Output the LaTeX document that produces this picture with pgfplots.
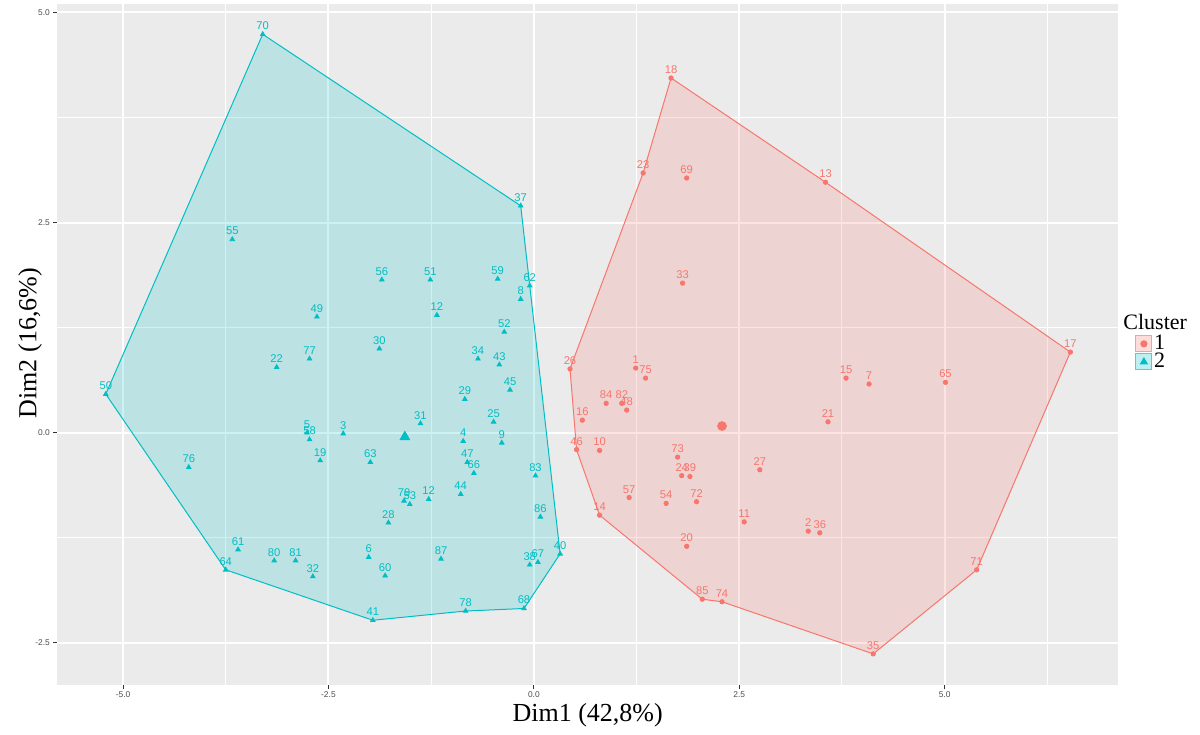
\documentclass[border=0pt]{standalone}
\usepackage{fontspec}
\setmainfont{Liberation Serif}
\newfontfamily\arial{Liberation Sans}
\usepackage{pgfplots}
\pgfplotsset{compat=1.18}
\definecolor{cRed}{HTML}{F8766D}
\definecolor{cCyan}{HTML}{00BFC4}
\definecolor{bg}{HTML}{EBEBEB}
\definecolor{tickc}{HTML}{4D4D4D}
\begin{document}
\begin{tikzpicture}
\path[use as bounding box] (0,0) rectangle (600pt,367pt);
\begin{axis}[
  at={(28.65pt,24.5pt)}, anchor=south west,
  scale only axis, width=530.35pt, height=340.5pt,
  xmin=-5.80, xmax=7.11, ymin=-3.00, ymax=5.10,
  axis background/.style={fill=bg},
  axis line style={draw=none},
  xtick={-5,-2.5,0,2.5,5}, ytick={-2.5,0,2.5,5},
  minor xtick={-3.75,-1.25,1.25,3.75,6.25}, minor ytick={-1.25,1.25,3.75},
  grid=both,
  major grid style={white, line width=1pt},
  minor grid style={white, line width=0.5pt},
  xticklabels={-5.0,-2.5,0.0,2.5,5.0}, yticklabels={-2.5,0.0,2.5,5.0},
  tick align=outside, major tick length=2pt, minor tick length=0pt,
  tick style={color=black!80, line width=0.5pt},
  tick pos=left,
  /pgf/number format/assume math mode=true,
  ticklabel style={font=\arial\fontsize{4.2}{5}\selectfont, text=tickc},
  xticklabel style={inner sep=1pt},
  yticklabel style={inner sep=1.5pt},
  xlabel={Dim1 (42,8\%)}, ylabel={Dim2 (16,6\%)},
  label style={font=\fontsize{13}{15}\selectfont},
  xlabel style={at={(axis description cs:0.5,-0.044)}, anchor=center},
  ylabel style={at={(axis description cs:-0.0257,0.502)}, anchor=center},
  legend style={at={(axis description cs:1.016,0.514)}, anchor=north west,
    draw=none, fill=none, inner sep=0pt, row sep=0.5pt,
    font=\fontsize{11}{12}\selectfont,
    nodes={inner sep=0.8pt, text height=6pt, text depth=0pt}},
  legend cell align=left,
]
% hulls
\addplot[forget plot, draw=cRed, fill=cRed, fill opacity=0.2, line width=0.5pt] coordinates {
(1.67,4.22) (3.55,2.98) (6.53,0.96) (5.39,-1.63) (4.13,-2.63) (2.29,-2.01) (2.05,-1.98) (0.80,-0.98) (0.52,-0.20) (0.44,0.76) (1.33,3.09)} -- cycle;
\addplot[forget plot, draw=cCyan, fill=cCyan, fill opacity=0.2, line width=0.5pt] coordinates {
(-3.30,4.74) (-0.16,2.70) (-0.05,1.75) (0.32,-1.44) (-0.12,-2.09) (-0.83,-2.12) (-1.96,-2.23) (-3.75,-1.63) (-5.21,0.46)} -- cycle;
% cluster 1
\addplot[forget plot, only marks, mark=*, mark size=1.1pt, color=cRed,
  nodes near coords, point meta=explicit symbolic,
  nodes near coords style={font=\arial\fontsize{5.6}{6}\selectfont, text=cRed, anchor=south, inner sep=0pt, yshift=2pt}]
table[meta=lab] {
x y lab
1.24 0.77 1
3.34 -1.17 2
4.08 0.58 7
0.80 -0.21 10
2.56 -1.06 11
3.55 2.98 13
0.80 -0.98 14
3.80 0.65 15
0.59 0.15 16
6.53 0.96 17
1.67 4.22 18
1.86 -1.35 20
3.58 0.13 21
1.33 3.09 23
1.80 -0.51 24
0.44 0.76 26
2.75 -0.44 27
1.81 1.78 33
4.13 -2.63 35
3.48 -1.19 36
1.90 -0.52 39
0.52 -0.20 46
1.13 0.27 48
1.61 -0.84 54
1.16 -0.77 57
5.01 0.60 65
1.86 3.03 69
5.39 -1.63 71
1.98 -0.82 72
1.75 -0.29 73
2.29 -2.01 74
1.36 0.65 75
1.07 0.35 82
0.88 0.35 84
2.05 -1.98 85
};
% cluster 2
\addplot[forget plot, only marks, mark=triangle*, mark size=1.3pt, color=cCyan,
  nodes near coords, point meta=explicit symbolic,
  nodes near coords style={font=\arial\fontsize{5.6}{6}\selectfont, text=cCyan, anchor=south, inner sep=0pt, yshift=2pt}]
table[meta=lab] {
x y lab
-2.32 -0.01 3
-0.86 -0.10 4
-2.76 0.00 5
-2.01 -1.48 6
-0.16 1.59 8
-0.39 -0.12 9
-1.18 1.40 12
-1.28 -0.79 12
-2.60 -0.33 19
-3.13 0.78 22
-0.49 0.13 25
-1.77 -1.07 28
-0.84 0.40 29
-1.88 1.00 30
-1.38 0.11 31
-2.69 -1.71 32
-0.68 0.88 34
-0.16 2.70 37
-0.05 -1.57 38
0.32 -1.44 40
-1.96 -2.23 41
-0.42 0.81 43
-0.89 -0.73 44
-0.29 0.51 45
-0.81 -0.35 47
-2.64 1.38 49
-5.21 0.46 50
-1.26 1.82 51
-0.36 1.20 52
-1.51 -0.85 53
-3.67 2.30 55
-1.85 1.82 56
-2.73 -0.08 58
-0.44 1.83 59
-1.81 -1.70 60
-3.60 -1.39 61
-0.05 1.75 62
-1.99 -0.35 63
-3.75 -1.63 64
-0.73 -0.48 66
0.05 -1.54 67
-0.12 -2.09 68
-3.30 4.74 70
-4.20 -0.41 76
-2.73 0.88 77
-0.83 -2.12 78
-1.58 -0.81 79
-3.16 -1.52 80
-2.90 -1.52 81
0.02 -0.51 83
0.08 -1.00 86
-1.13 -1.50 87
};
% centroids
\addplot[forget plot, only marks, mark=*, mark size=2.2pt, color=cRed] coordinates {(2.29,0.08)};
\addplot[forget plot, only marks, mark=triangle*, mark size=2.8pt, color=cCyan] coordinates {(-1.57,-0.05)};
% legend
\addlegendimage{legend image code/.code={\draw[draw=cRed!70, fill=cRed!25, line width=0.5pt] (0pt,-4pt) rectangle (8pt,4pt); \draw[cRed, mark=*, mark size=1.6pt] plot coordinates {(4pt,0pt)};}}
\addlegendentry{1}
\addlegendimage{legend image code/.code={\draw[draw=cCyan!70, fill=cCyan!25, line width=0.5pt] (0pt,-4pt) rectangle (8pt,4pt); \draw[cCyan, mark=triangle*, mark size=2pt] plot coordinates {(4pt,0pt)};}}
\addlegendentry{2}
\end{axis}
\node[anchor=west, inner sep=0pt, font=\fontsize{11}{12}\selectfont] at (561.5pt,206pt) {Cluster};
\end{tikzpicture}
\end{document}
